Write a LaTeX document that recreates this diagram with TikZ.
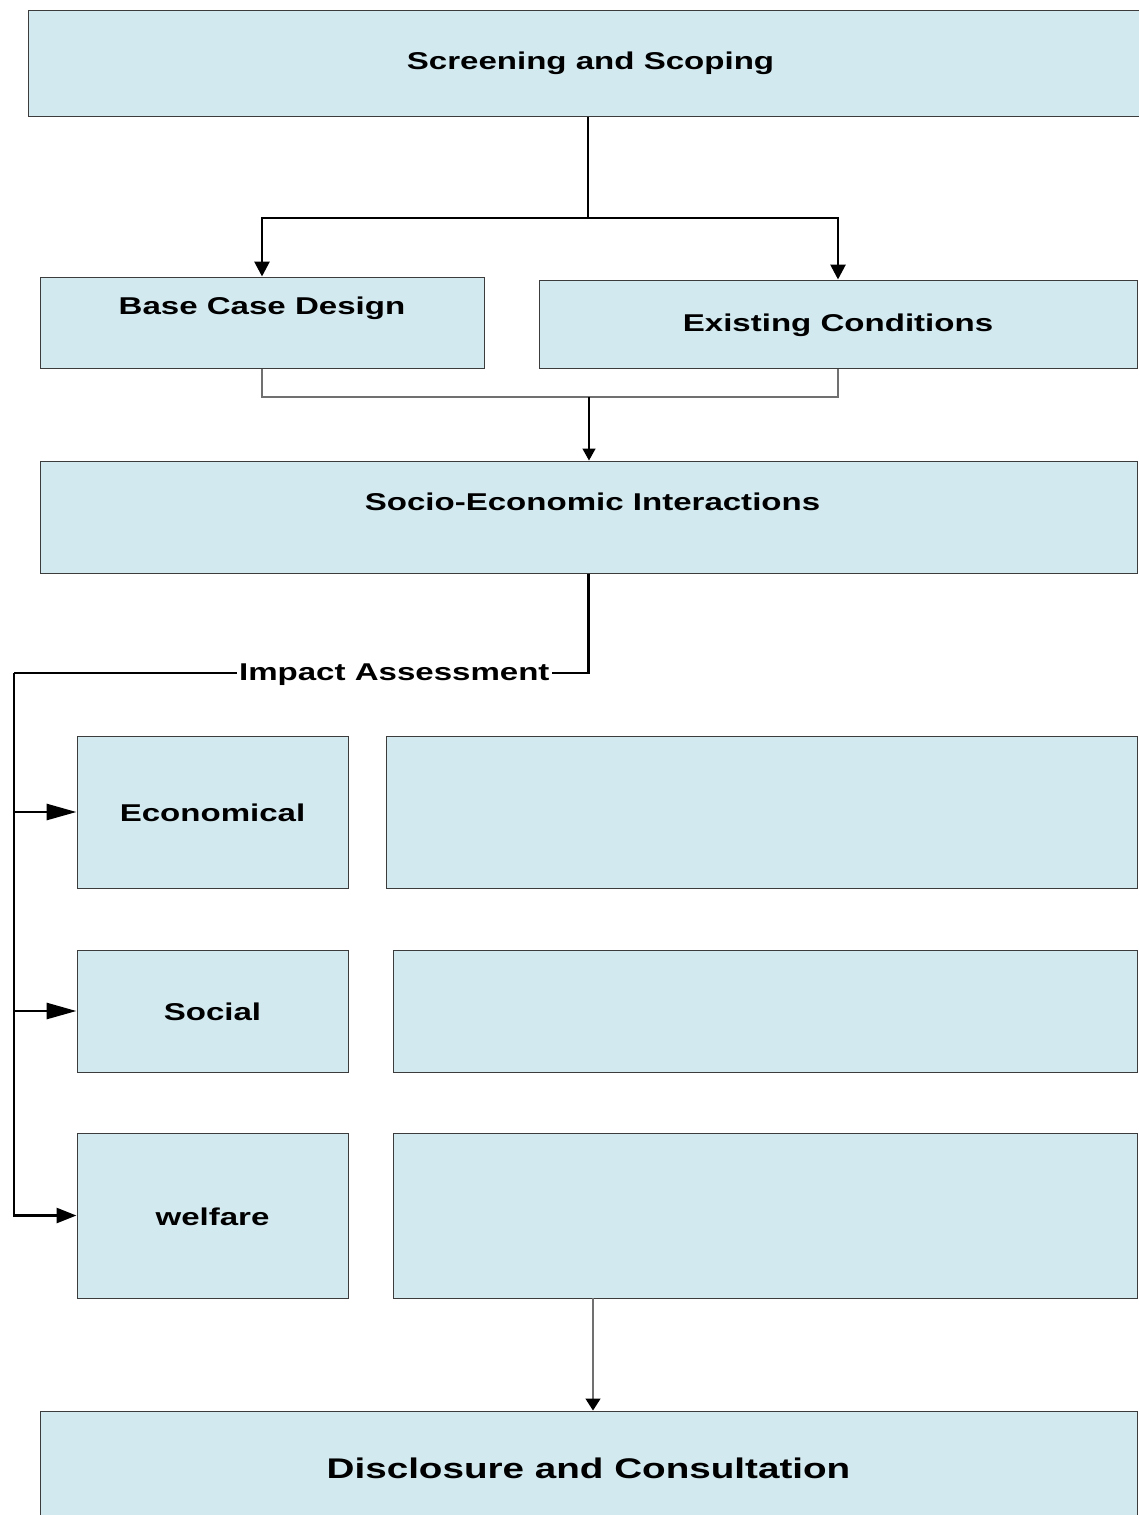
\documentclass[tikz,border=0pt]{standalone}
\usepackage{fontspec}
\newfontfamily\wfont[FakeStretch=1.36]{Liberation Sans}
\usetikzlibrary{arrows.meta}
\definecolor{boxfill}{HTML}{D2E9EF}
\definecolor{boxline}{HTML}{3C3C3C}
\definecolor{grayline}{HTML}{707070}
\tikzset{
  box/.style={draw=boxline, line width=1pt, fill=boxfill, rectangle, inner sep=0pt},
  txt/.style={font=\wfont\bfseries\fontsize{24.3}{29}\selectfont, inner sep=0pt},
  bigtxt/.style={font=\wfont\bfseries\fontsize{28.4}{33}\selectfont, inner sep=0pt},
  thk/.style={line width=2.8pt, black},
  thkarrow/.style={thk, -{Triangle[length=15pt,width=15pt]}},
  longarrow/.style={thk, -{Triangle[length=30pt,width=16pt]}},
  shortarrow/.style={thk, -{Triangle[length=20pt,width=15pt]}},
  gry/.style={line width=1.2pt, grayline},
  thinarrow/.style={line width=1.5pt, black, -{Triangle[length=12pt,width=13pt]}},
  grayarrow/.style={line width=1.5pt, grayline, -{Triangle[length=12pt,width=15pt,color=black,fill=black]}}
}
\begin{document}
\begin{tikzpicture}[x=1pt,y=-1pt]
\useasboundingbox (0,0) rectangle (1139,1515);
\clip (0,0) rectangle (1139,1515);
\fill[white] (0,0) rectangle (1139,1515);

% boxes
\node[box, minimum width=1113, minimum height=106,
  label={[txt, xshift=6pt, yshift=0pt]center:Screening and Scoping}] (s1) at (584.5,63) {};
\node[box, minimum width=444, minimum height=91,
  label={[txt, yshift=14pt]center:Base Case Design}] (base) at (262,322.5) {};
\node[box, minimum width=598, minimum height=88,
  label={[txt, yshift=-1pt]center:Existing Conditions}] (exist) at (838,324) {};
\node[box, minimum width=1097, minimum height=112,
  label={[txt, xshift=4pt, yshift=15pt]center:Socio-Economic Interactions}] (socio) at (588.5,517) {};
\node[box, minimum width=271, minimum height=152,
  label={[txt, yshift=-1pt]center:Economical}] (econ) at (212.5,812) {};
\node[box, minimum width=751, minimum height=152] (r1) at (761.5,812) {};
\node[box, minimum width=271, minimum height=122,
  label={[txt, yshift=-1pt]center:Social}] (soc) at (212.5,1011) {};
\node[box, minimum width=744, minimum height=122] (r2) at (765,1011) {};
\node[box, minimum width=271, minimum height=165,
  label={[txt, yshift=-1pt]center:welfare}] (welf) at (212.5,1215.5) {};
\node[box, minimum width=744, minimum height=165] (r3) at (765,1215.5) {};
\node[box, minimum width=1097, minimum height=110,
  label={[bigtxt, yshift=-2pt]center:Disclosure and Consultation}] (disc) at (588.5,1466) {};

% top split
\coordinate (j1) at (588,218);
\draw[thk] (j1 |- s1.south) -- (j1);
\draw[thkarrow] (j1) -| (base.north);
\draw[thkarrow] (j1) -| (exist.north);

% merge
\coordinate (j2) at (589,397);
\draw[gry] (base.south) -- (base.south |- j2) -| (exist.south);
\draw[thinarrow] (j2) -- (j2 |- socio.north);

% impact assessment
\coordinate (ia) at (14,673);
\draw[thk] (socio.south) |- node[pos=0.669, txt, fill=white, inner xsep=2pt, inner ysep=3pt, yshift=-2pt] (ialabel) {Impact Assessment} (ia);
\draw[shortarrow] (ia) |- (welf.west);
\draw[longarrow] (ia |- econ.west) -- (econ.west);
\draw[longarrow] (ia |- soc.west) -- (soc.west);

% bottom
\coordinate (j3) at (593,1298);
\draw[grayarrow] (j3) -- (j3 |- disc.north);
\end{tikzpicture}
\end{document}
